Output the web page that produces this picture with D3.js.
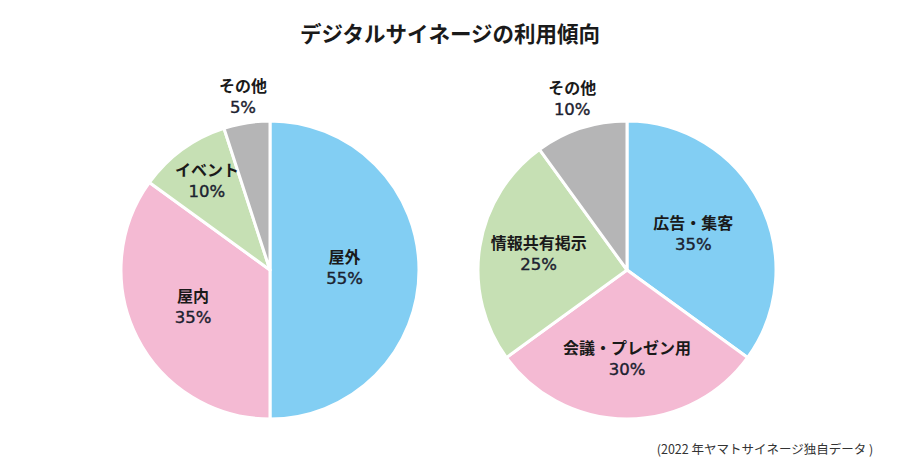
<!DOCTYPE html>
<html><head><meta charset="utf-8">
<script src="https://cdn.jsdelivr.net/npm/d3@7"></script>
<style>
body{margin:0;background:#fff;}
svg{display:block;}
</style></head>
<body><svg id="c" width="900" height="471"></svg>
<script>
const title = "デジタルサイネージの利用傾向";
const source = "(2022 年ヤマトサイネージ独自データ )";

const leftCategories = ["屋外", "屋内", "イベント", "その他"];
const leftValues = [50, 35, 10, 5];          // slice sizes as drawn
const leftLabels = ["55%", "35%", "10%", "5%"]; // printed labels

const rightCategories = ["広告・集客", "会議・プレゼン用", "情報共有掲示", "その他"];
const rightValues = [35, 30, 25, 10];
const rightLabels = ["35%", "30%", "25%", "10%"];

const colors = ["#82cef3", "#f4bad3", "#c6e0b4", "#b5b5b6"];

// layout (not data)
const R = 149;
const pies = [
  {cx: 270, cy: 270, cats: leftCategories, vals: leftValues, labs: leftLabels, lr: [0.50, 0.58, 0.72, 1.16]},
  {cx: 627, cy: 270, cats: rightCategories, vals: rightValues, labs: rightLabels, lr: [0.50, 0.61, 0.60, 1.19]}
];

const svg = d3.select("#c");
const jp = "'Noto Sans CJK JP','Noto Sans',sans-serif";
const num = "'DejaVu Sans',sans-serif";

svg.append("text").attr("x", 450).attr("y", 42).attr("text-anchor", "middle")
  .attr("font-family", jp).attr("font-weight", 700).attr("font-size", 21.5).attr("fill", "#1a1a1a")
  .text(title);

const pie = d3.pie().sort(null).value(d => d);
const arc = d3.arc().innerRadius(0).outerRadius(R);

pies.forEach(p => {
  const g = svg.append("g").attr("transform", `translate(${p.cx},${p.cy})`);
  const arcs = pie(p.vals);
  g.selectAll("path").data(arcs).join("path")
    .attr("d", arc).attr("fill", (d, i) => colors[i])
    .attr("stroke", "#fff").attr("stroke-width", 3).attr("stroke-linejoin", "round");
  arcs.forEach((d, i) => {
    const a = (d.startAngle + d.endAngle) / 2;
    const r = R * p.lr[i];
    const x = Math.sin(a) * r, y = -Math.cos(a) * r;
    const t = g.append("text").attr("text-anchor", "middle").attr("fill", "#1a1a1a");
    t.append("tspan").attr("x", x).attr("y", y - 7)
      .attr("font-family", jp).attr("font-weight", 700).attr("font-size", 16).text(p.cats[i]);
    t.append("tspan").attr("x", x).attr("y", y + 14)
      .attr("font-family", num).attr("font-size", 16.5).attr("fill", "#1c2230")
      .attr("stroke", "#1c2230").attr("stroke-width", 0.4).text(p.labs[i]);
  });
});

svg.append("text").attr("x", 765).attr("y", 454).attr("text-anchor", "middle")
  .attr("font-family", jp).attr("font-size", 12.5).attr("fill", "#333").text(source);
</script></body></html>
